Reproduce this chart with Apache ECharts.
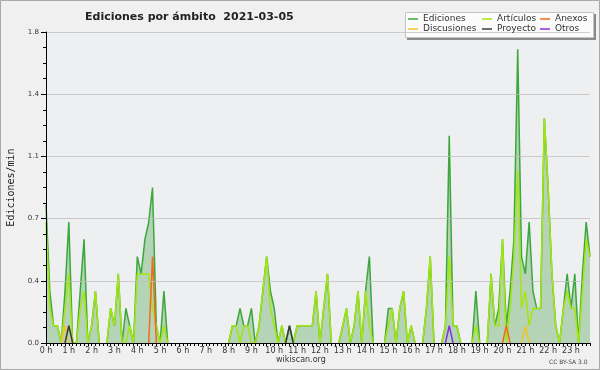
<!DOCTYPE html>
<html>
<head>
<meta charset="utf-8">
<script src="https://cdn.jsdelivr.net/npm/echarts@6/dist/echarts.min.js"></script>
<style>html,body{margin:0;padding:0;background:#f0f0f0}#c{width:600px;height:370px}</style>
</head>
<body>
<div id="c"></div>
<script>
// 10-minute bins, 00:00 .. 23:50
var times = [];
for (var h = 0; h < 24; h++) { for (var m = 0; m < 60; m += 10) { times.push((h < 10 ? '0' : '') + h + ':' + (m < 10 ? '0' : '') + m); } }

var ediciones = [
0.8,0.3,0.1,0.1,0,0.3,0.7,0,0,0.3,
0.6,0,0.1,0.3,0,0,0,0.2,0.1,0.4,
0,0.2,0.1,0,0.5,0.4,0.6,0.7,0.9,0.1,
0,0.3,0,0,0,0,0,0,0,0,
0,0,0,0,0,0,0,0,0,0.1,
0.1,0.2,0.1,0.1,0.2,0,0.1,0.3,0.5,0.3,
0.2,0,0.1,0,0.1,0,0.1,0.1,0.1,0.1,
0.1,0.3,0,0.2,0.4,0,0,0,0.1,0.2,
0,0.1,0.3,0,0.3,0.5,0,0,0,0,
0.2,0.2,0,0.2,0.3,0,0.1,0,0,0,
0.2,0.5,0,0,0,0.1,1.2,0.1,0.1,0,
0,0,0,0.3,0,0,0,0.4,0.1,0.2,
0.6,0.1,0.3,0.6,1.7,0.5,0.4,0.7,0.3,0.2,
0.2,1.3,0.9,0.4,0.1,0,0.2,0.4,0.2,0.4,
0,0.4,0.7,0.5];

var articulos = [
0.7,0.2,0.1,0.1,0,0.2,0.4,0,0,0.2,
0.3,0,0.1,0.3,0,0,0,0.2,0.1,0.4,
0,0,0.1,0,0.4,0.4,0.4,0.4,0.2,0.1,
0,0.1,0,0,0,0,0,0,0,0,
0,0,0,0,0,0,0,0,0,0.1,
0.1,0,0.1,0.1,0,0,0.1,0.3,0.5,0.2,
0.1,0,0.1,0,0,0,0.1,0.1,0.1,0.1,
0.1,0.3,0,0.2,0.4,0,0,0,0.1,0.2,
0,0.1,0.3,0,0.3,0.1,0,0,0,0,
0.1,0.2,0,0.2,0.3,0,0.1,0,0,0,
0.2,0.5,0,0,0,0.1,0.5,0.1,0.1,0,
0,0,0,0.1,0,0,0,0.4,0.1,0.1,
0.6,0,0.2,0.5,1.0,0.2,0.3,0.1,0.2,0.2,
0.2,1.3,0.9,0.4,0.1,0,0.2,0.3,0.2,0.2,
0,0.3,0.6,0.5];

var anexos = [
0,0,0,0,0,0,0,0,0,0, 0,0,0,0,0,0,0,0,0,0, 0,0,0,0,0,0,0,0,0.5,0, 0,0,0,0,0,0,0,0,0,0,
0,0,0,0,0,0,0,0,0,0, 0,0,0,0,0,0,0,0,0,0, 0,0,0,0,0,0,0,0,0,0, 0,0,0,0,0,0,0,0,0,0,
0,0,0,0,0,0,0,0,0,0, 0,0,0,0,0,0,0,0,0,0, 0,0,0,0,0,0,0,0,0,0, 0,0,0,0,0,0,0,0,0,0,
0,0.1,0,0,0,0,0,0,0,0, 0,0,0,0,0,0,0,0,0,0, 0,0,0,0];

var discusiones = [
0,0,0,0,0,0.1,0,0,0,0, 0,0,0,0,0,0,0,0,0,0, 0,0,0,0,0,0,0,0,0,0, 0,0,0,0,0,0,0,0,0,0,
0,0,0,0,0,0,0,0,0,0, 0,0,0,0,0,0,0,0,0,0, 0,0,0,0,0,0,0,0,0,0, 0,0,0,0,0,0,0,0,0,0,
0,0,0,0,0,0,0,0,0,0, 0,0,0,0,0,0,0,0,0,0, 0,0,0,0,0,0,0,0,0,0, 0,0,0,0,0,0,0,0,0,0,
0,0,0,0,0,0,0.1,0,0,0, 0,0,0,0,0,0,0,0,0,0, 0,0,0,0];

var proyecto = [
0,0,0,0,0,0,0.1,0,0,0, 0,0,0,0,0,0,0,0,0,0, 0,0,0,0,0,0,0,0,0,0, 0,0,0,0,0,0,0,0,0,0,
0,0,0,0,0,0,0,0,0,0, 0,0,0,0,0,0,0,0,0,0, 0,0,0,0,0.1,0,0,0,0,0, 0,0,0,0,0,0,0,0,0,0,
0,0,0,0,0,0,0,0,0,0, 0,0,0,0,0,0,0,0,0,0, 0,0,0,0,0,0,0,0,0,0, 0,0,0,0,0,0,0,0,0,0,
0,0,0,0,0,0,0,0,0,0, 0,0,0,0,0,0,0,0,0,0, 0,0,0,0];

var otros = [
0,0,0,0,0,0,0,0,0,0, 0,0,0,0,0,0,0,0,0,0, 0,0,0,0,0,0,0,0,0,0, 0,0,0,0,0,0,0,0,0,0,
0,0,0,0,0,0,0,0,0,0, 0,0,0,0,0,0,0,0,0,0, 0,0,0,0,0,0,0,0,0,0, 0,0,0,0,0,0,0,0,0,0,
0,0,0,0,0,0,0,0,0,0, 0,0,0,0,0,0,0,0,0,0, 0,0,0,0,0,0,0.1,0,0,0, 0,0,0,0,0,0,0,0,0,0,
0,0,0,0,0,0,0,0,0,0, 0,0,0,0,0,0,0,0,0,0, 0,0,0,0];

var yTicks = [0, 0.36, 0.72, 1.08, 1.44, 1.8];

// Zero runs lie on the axis line; leave them out of the stroke so the baseline stays black.
function trimZeroRuns(arr) {
  return arr.map(function (v, i) {
    var prev = i > 0 ? arr[i - 1] : 0, next = i < arr.length - 1 ? arr[i + 1] : 0;
    return (v === 0 && prev === 0 && next === 0) ? null : v;
  });
}

var FONT = 'DejaVu Sans';
var chart = echarts.init(document.getElementById('c'), null, {renderer: 'canvas'});

function lineSeries(name, data, color, extra) {
  var s = {
    name: name, type: 'line', data: trimZeroRuns(data), symbol: 'none', smooth: false,
    itemStyle: {color: color}, lineStyle: {color: color, width: 1.5},
    emphasis: {disabled: true}, silent: true
  };
  for (var k in (extra || {})) s[k] = extra[k];
  return s;
}

var legendCommon = {
  orient: 'vertical', padding: 0, itemGap: 0, itemWidth: 10, itemHeight: 1.5, icon: 'rect',
  selectedMode: false, top: 14, z: 20, zlevel: 1,
  textStyle: {fontFamily: FONT, fontSize: 9, color: '#333', lineHeight: 10, padding: 0}
};
function lg(left, data) { var o = {}; for (var k in legendCommon) o[k] = legendCommon[k]; o.left = left; o.data = data; return o; }

chart.setOption({
  animation: false,
  backgroundColor: '#f0f0f0',
  title: {
    text: 'Ediciones por ámbito  2021-03-05', left: 80, top: 7,
    textStyle: {fontFamily: FONT, fontWeight: 'bold', fontSize: 11, color: '#222'}
  },
  graphic: [
    {type: 'rect', shape: {x: 0.5, y: 0.5, width: 599, height: 369}, style: {fill: 'none', stroke: '#a8a8a8', lineWidth: 1}, z: 100},
    {type: 'rect', shape: {x: 407, y: 14, width: 189, height: 26}, style: {fill: '#8a8a8a'}, z: 1},
    {type: 'rect', shape: {x: 405.5, y: 12.5, width: 188, height: 25}, style: {fill: '#fbfbfb', stroke: '#c4c4c4', lineWidth: 1}, z: 2},
    {type: 'text', left: 276, top: 356, style: {text: 'wikiscan.org', font: '8px "DejaVu Sans"', fill: '#333'}, z: 12},
    {type: 'text', left: 549, top: 359, style: {text: 'CC BY-SA 3.0', font: '6px "DejaVu Sans"', fill: '#444'}, z: 12}
  ],
  legend: [
    lg(408, ['Ediciones', 'Discusiones']),
    lg(482, ['Artículos', 'Proyecto']),
    lg(540, ['Anexos', 'Otros'])
  ],
  grid: {left: 46, right: 10, top: 32, bottom: 27, show: true, backgroundColor: '#eeeff1', borderWidth: 0,
    containLabel: false, outerBoundsMode: 'none'},
  xAxis: {
    type: 'category', data: times, boundaryGap: false, zlevel: 1,
    axisLine: {show: true, lineStyle: {color: '#000', width: 1}},
    axisTick: {show: true, interval: 0, length: 3, lineStyle: {color: '#000'}},
    axisLabel: {interval: 5, margin: 4, fontFamily: FONT, fontSize: 8, color: '#333',
      formatter: function (v) { return parseInt(v.split(':')[0], 10) + ' h'; }},
    splitLine: {show: false}
  },
  yAxis: {
    type: 'value', min: yTicks[0], max: yTicks[yTicks.length - 1], interval: yTicks[1], zlevel: 1,
    axisLine: {show: true, lineStyle: {color: '#000', width: 1}},
    axisTick: {show: true, length: 5, lineStyle: {color: '#000'}},
    minorTick: {show: true, splitNumber: 4, length: 3, lineStyle: {color: '#000'}},
    axisLabel: {margin: 7, fontFamily: FONT, fontSize: 7, color: '#333',
      formatter: function (v) { return v.toFixed(1); }},
    splitLine: {show: true, lineStyle: {color: 'rgba(190,190,190,0.75)', width: 1}},
    name: 'Ediciones/min', nameLocation: 'middle', nameGap: 30, nameRotate: 90,
    nameTextStyle: {fontFamily: 'DejaVu Sans Mono', fontSize: 10, color: '#222'}
  },
  series: [
    lineSeries('Ediciones', ediciones, '#3ba83b', {areaStyle: {color: 'rgba(60,150,60,0.45)', origin: 'start'}}),
    lineSeries('Artículos', articulos, '#a4e60f'),
    lineSeries('Anexos', anexos, '#f26a1e'),
    lineSeries('Discusiones', discusiones, '#f2c428'),
    lineSeries('Proyecto', proyecto, '#3c3c3c'),
    lineSeries('Otros', otros, '#8c2ee0')
  ]
});
</script>
</body>
</html>
